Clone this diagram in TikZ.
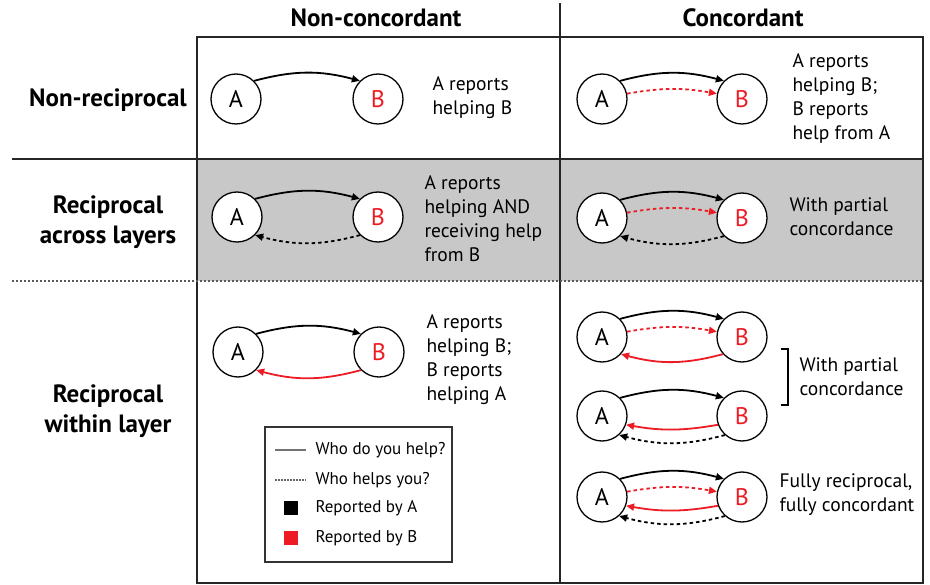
\documentclass[tikz,border=0pt]{standalone}
\usepackage{fontspec}
\setmainfont{PT Sans}
\usetikzlibrary{arrows.meta}
\definecolor{repred}{RGB}{237,28,36}
\definecolor{rowgray}{RGB}{200,200,200}

\begin{document}
\begin{tikzpicture}[x=1pt, y=-1pt,
  actor/.style={draw, circle, fill=white, line width=1.3pt, minimum size=50pt, inner sep=0pt, font=\fontsize{24}{24}\selectfont},
  bactor/.style={actor, text=repred},
  help/.style={line width=1.8pt, -{Triangle[length=8pt,width=7pt]}},
  helped/.style={help, dash pattern=on 3.5pt off 3pt},
  desc/.style={anchor=west, align=left, font=\fontsize{19.5}{24}\selectfont},
  legendtext/.style={desc, font=\fontsize{17}{24}\selectfont},
  rowlabel/.style={align=center, font=\fontsize{25}{30}\selectfont\bfseries}]
\useasboundingbox (0,0) rectangle (930,585);

\fill[rowgray] (197,159) rectangle (923,281);
\draw[line width=1.5pt, black!85] (197,37) rectangle (923,583);
\draw[line width=1.5pt, black!85] (560,3) -- (560,583);
\draw[line width=1.5pt, black!85] (12,159) -- (923,159);
\draw[line width=1.2pt, black!65, dash pattern=on 2pt off 2pt] (12,281) -- (923,281);

\node[rowlabel] (hnc) at (376,18) {Non-concordant};
\node[rowlabel] (hc) at (743,18) {Concordant};
\node[rowlabel] (rnr) at (108,100) {Non-reciprocal};
\node[rowlabel] (ral) at (108,222) {Reciprocal\\across layers};
\node[rowlabel] (rwl) at (108,411) {Reciprocal\\within layer};

\node[actor] (A1) at (236,99) {A};
\node[bactor] (B1) at (378,99) {B};
\draw[help] (A1.45) to[bend left=15] (B1.135);
\node[desc] (d1) at (429,98) {A reports\\helping B};

\node[actor] (A2) at (602,99) {A};
\node[bactor] (B2) at (742,99) {B};
\draw[help] (A2.45) to[bend left=15] (B2.135);
\draw[helped, repred] (A2.12) to[bend left=10] (B2.168);
\node[desc] (d2) at (789,99) {A reports\\helping B;\\B reports\\help from A};

\node[actor] (A3) at (237,217) {A};
\node[bactor] (B3) at (378,217) {B};
\draw[help] (A3.45) to[bend left=15] (B3.135);
\draw[helped] (B3.225) to[bend left=15] (A3.315);
\node[desc] (d3) at (421,219) {A reports\\helping AND\\receiving help\\from B};

\node[actor] (A4) at (602,218) {A};
\node[bactor] (B4) at (742,218) {B};
\draw[help] (A4.45) to[bend left=15] (B4.135);
\draw[helped, repred] (A4.12) to[bend left=10] (B4.168);
\draw[helped] (B4.225) to[bend left=15] (A4.315);
\node[desc] (d4) at (786,217) {With partial\\concordance};

\node[actor] (A5) at (238,352) {A};
\node[bactor] (B5) at (379,352) {B};
\draw[help] (A5.45) to[bend left=15] (B5.135);
\draw[help, repred] (B5.225) to[bend left=15] (A5.315);
\node[desc] (d5) at (423,360) {A reports\\helping B;\\B reports\\helping A};

\node[actor] (A6) at (602,337) {A};
\node[bactor] (B6) at (742,337) {B};
\draw[help] (A6.45) to[bend left=15] (B6.135);
\draw[helped, repred] (A6.12) to[bend left=10] (B6.168);
\draw[help, repred] (B6.222) to[bend left=15] (A6.318);

\node[actor] (A7) at (602,416) {A};
\node[bactor] (B7) at (742,416) {B};
\draw[help] (A7.45) to[bend left=15] (B7.135);
\draw[help, repred] (B7.200) to[bend left=10] (A7.340);
\draw[helped] (B7.228) to[bend left=15] (A7.312);

\node[actor] (A8) at (602,497) {A};
\node[bactor] (B8) at (742,497) {B};
\draw[help] (A8.45) to[bend left=15] (B8.135);
\draw[helped, repred] (A8.12) to[bend left=10] (B8.168);
\draw[help, repred] (B8.200) to[bend left=10] (A8.340);
\draw[helped] (B8.228) to[bend left=15] (A8.312);

\draw[line width=1.8pt] (781,349) -- (788,349) -- (788,405) -- (781,405);
\node[desc] (d6) at (796,377) {With partial\\concordance};
\node[desc] (d8) at (776,495) {Fully reciprocal,\\fully concordant};

\draw[line width=1.3pt, black!80] (265,427) rectangle (452,562);
\draw[line width=1.8pt, black!55] (275,450) -- (306,450);
\draw[line width=1.2pt, black!60, dash pattern=on 1.5pt off 1.5pt] (275,480) -- (306,480);
\fill (284,501) rectangle (298,515);
\fill[repred] (284,531) rectangle (298,545);
\node[legendtext] (l1) at (312,450) {Who do you help?};
\node[legendtext] (l2) at (312,480) {Who helps you?};
\node[legendtext] (l3) at (312,508) {Reported by A};
\node[legendtext] (l4) at (312,538) {Reported by B};
\end{tikzpicture}
\end{document}
